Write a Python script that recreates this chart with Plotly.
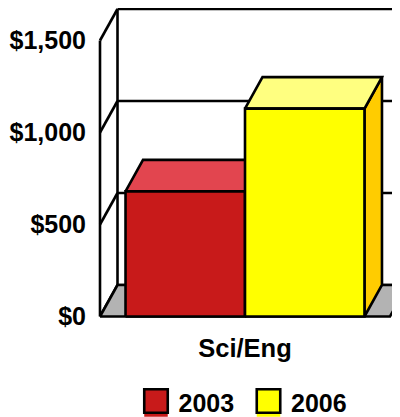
import plotly.graph_objects as go

# ---------------- data ----------------
categories = ["Sci/Eng"]
years = ["2003", "2006"]
values_2003 = [680]
values_2006 = [1130]
y_ticks = [0, 500, 1000, 1500]
y_tick_labels = ["$0", "$500", "$1,000", "$1,500"]

series_values = [values_2003, values_2006]

# ---------------- style ----------------
FONT = "Arial, Liberation Sans, sans-serif"
FRONT = ["#C81A1A", "#FFFF00"]
TOP = ["#E2454F", "#FFFF80"]
SIDE = ["#A01010", "#FFCC00"]
FLOOR = "#B3B3B3"
LW = 2.6

PAGE_W, PAGE_H = 400, 417
OFF = 8                            # page body margin of the html file
W, H = PAGE_W - OFF, PAGE_H - OFF  # figure size

# layout in page pixels
PLOT_L, PLOT_B = 90, 330           # main plot area left / bottom edges
PX_PER_CAT = 290                   # px per category unit
PX_PER_VAL = 0.184                 # px per value unit
ZERO_PX = 316.5                    # row of value 0 on the front plane
FRONT_LEFT_PX = 100                # column of the front-left wall edge
DEPTH_X = 17.5 / PX_PER_CAT        # depth offset (x units)
DEPTH_Y = 31.5 / PX_PER_VAL        # depth offset (value units)
GROUP = 0.824                      # fraction of category used by bars

x_min = -0.5 - (FRONT_LEFT_PX - PLOT_L) / PX_PER_CAT
x_max = x_min + (PAGE_W - PLOT_L) / PX_PER_CAT
y_min = -(PLOT_B - ZERO_PX) / PX_PER_VAL
y_max = (ZERO_PX - OFF) / PX_PER_VAL

fig = go.Figure()


def poly(xs, ys, fill):
    fig.add_trace(go.Scatter(
        x=list(xs) + [xs[0]], y=list(ys) + [ys[0]], mode="lines",
        fill="toself", fillcolor=fill, line=dict(color="black", width=LW),
        hoverinfo="skip", showlegend=False))


def line(xs, ys):
    fig.add_trace(go.Scatter(
        x=xs, y=ys, mode="lines", line=dict(color="black", width=LW),
        hoverinfo="skip", showlegend=False))


n_cat = len(categories)
left = -0.5
right = n_cat - 0.5
top_tick = max(y_ticks)

# back wall gridlines
for v in y_ticks:
    line([left + DEPTH_X, right + DEPTH_X], [v + DEPTH_Y, v + DEPTH_Y])
line([left + DEPTH_X, left + DEPTH_X], [DEPTH_Y, top_tick + DEPTH_Y])
line([right + DEPTH_X, right + DEPTH_X], [DEPTH_Y, top_tick + DEPTH_Y])
# left side wall
line([left, left], [0, top_tick])
for v in y_ticks:
    line([left, left + DEPTH_X], [v, v + DEPTH_Y])
# floor
poly([left, right, right + DEPTH_X, left + DEPTH_X], [0, 0, DEPTH_Y, DEPTH_Y], FLOOR)

# bars
n_ser = len(series_values)
bar_w = GROUP / n_ser
for ci in range(n_cat):
    for si, vals in enumerate(series_values):
        v = vals[ci]
        x0 = ci - GROUP / 2 + si * bar_w
        x1 = x0 + bar_w
        poly([x1, x1 + DEPTH_X, x1 + DEPTH_X, x1], [0, DEPTH_Y, v + DEPTH_Y, v], SIDE[si])
        poly([x0, x1, x1 + DEPTH_X, x0 + DEPTH_X], [v, v, v + DEPTH_Y, v + DEPTH_Y], TOP[si])
        poly([x0, x1, x1, x0], [0, 0, v, v], FRONT[si])

# legend (drawn on its own small axis below the plot)
LEG_X0, LEG_STEP, LEG_Y = 156, 112.5, 401   # page px
lx_min = -(LEG_X0 - OFF) / LEG_STEP
lx_max = lx_min + W / LEG_STEP
leg_h = PAGE_H - PLOT_B
ly_min = -(PAGE_H - LEG_Y) / leg_h
ly_max = ly_min + 1
idx = list(range(len(years)))
fig.add_trace(go.Scatter(
    x=idx, y=[-4 / leg_h] * len(idx), mode="markers", xaxis="x2", yaxis="y2",
    marker=dict(symbol="square", size=23.5, color=FRONT[:len(idx)], line=dict(width=0)),
    hoverinfo="skip", showlegend=False, cliponaxis=False))
fig.add_trace(go.Scatter(
    x=idx, y=[0] * len(idx), mode="markers", xaxis="x2", yaxis="y2",
    marker=dict(symbol="square", size=23.5, color=FRONT[:len(idx)],
                line=dict(width=LW, color="black")),
    hoverinfo="skip", showlegend=False, cliponaxis=False))
fig.add_trace(go.Scatter(
    x=[i + 0.2 for i in idx], y=[-5 / leg_h] * len(idx), mode="text", xaxis="x2", yaxis="y2",
    text=years, textposition="middle right",
    textfont=dict(family=FONT, size=25, color="black", weight="bold"),
    hoverinfo="skip", showlegend=False, cliponaxis=False))

fig.update_layout(
    width=W, height=H, margin=dict(l=0, r=0, t=0, b=0),
    paper_bgcolor="white", plot_bgcolor="white", showlegend=False,
    xaxis=dict(domain=[(PLOT_L - OFF) / W, 1], range=[x_min, x_max],
               tickvals=list(range(n_cat)), ticktext=categories,
               tickfont=dict(family=FONT, size=25.5, color="black", weight="bold"),
               showgrid=False, zeroline=False, showline=False, ticks="",
               ticklabelstandoff=0, fixedrange=True),
    yaxis=dict(domain=[(PAGE_H - PLOT_B) / H, 1], range=[y_min, y_max],
               tickvals=y_ticks, ticktext=y_tick_labels,
               tickfont=dict(family=FONT, size=25, color="black", weight="bold"),
               showgrid=False, zeroline=False, showline=False, ticks="",
               ticklabelstandoff=3, fixedrange=True),
    xaxis2=dict(domain=[0, 1], range=[lx_min, lx_max], visible=False, anchor="y2"),
    yaxis2=dict(domain=[0, (PAGE_H - PLOT_B) / H], range=[ly_min, ly_max], visible=False, anchor="x2"),
)

fig.write_html("out.html")
